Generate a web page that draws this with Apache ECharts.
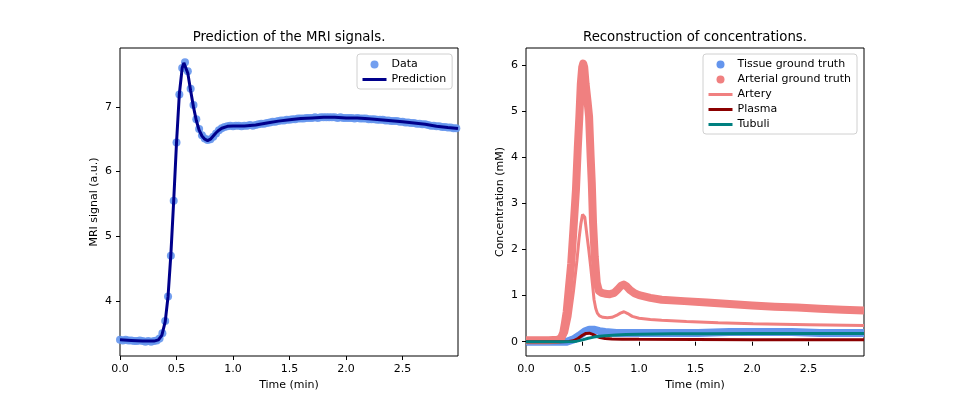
<!DOCTYPE html>
<html><head><meta charset="utf-8">
<script src="https://cdn.jsdelivr.net/npm/echarts@6/dist/echarts.min.js"></script>
<style>html,body{margin:0;padding:0;background:#fff}#c{width:960px;height:400px}</style>
</head><body><div id="c"></div>
<script>
// ---------- Left panel: MRI signal ----------
const dataTime = [0.000,0.025,0.050,0.075,0.100,0.125,0.150,0.175,0.200,0.225,0.250,0.275,0.300,0.325,0.350,0.375,0.400,0.425,0.450,0.475,0.500,0.525,0.550,0.575,0.600,0.625,0.650,0.675,0.700,0.725,0.750,0.775,0.800,0.825,0.850,0.875,0.900,0.925,0.950,0.975,1.000,1.025,1.050,1.075,1.100,1.125,1.150,1.175,1.200,1.225,1.250,1.275,1.300,1.325,1.350,1.375,1.400,1.425,1.450,1.475,1.500,1.525,1.550,1.575,1.600,1.625,1.650,1.675,1.700,1.725,1.750,1.775,1.800,1.825,1.850,1.875,1.900,1.925,1.950,1.975,2.000,2.025,2.050,2.075,2.100,2.125,2.150,2.175,2.200,2.225,2.250,2.275,2.300,2.325,2.350,2.375,2.400,2.425,2.450,2.475,2.500,2.525,2.550,2.575,2.600,2.625,2.650,2.675,2.700,2.725,2.750,2.775,2.800,2.825,2.850,2.875,2.900,2.925,2.950,2.975];
const dataSignal = [3.40,3.39,3.40,3.39,3.39,3.38,3.38,3.39,3.38,3.37,3.38,3.37,3.38,3.39,3.42,3.50,3.69,4.07,4.70,5.55,6.45,7.19,7.60,7.69,7.55,7.28,7.03,6.81,6.66,6.56,6.51,6.49,6.50,6.54,6.59,6.64,6.67,6.69,6.70,6.71,6.70,6.71,6.71,6.70,6.71,6.71,6.72,6.71,6.72,6.73,6.74,6.74,6.75,6.76,6.77,6.77,6.78,6.79,6.79,6.80,6.80,6.81,6.81,6.82,6.82,6.82,6.83,6.83,6.83,6.84,6.83,6.84,6.84,6.84,6.84,6.84,6.84,6.83,6.84,6.83,6.83,6.83,6.83,6.82,6.83,6.82,6.82,6.82,6.81,6.81,6.81,6.80,6.80,6.80,6.79,6.79,6.78,6.78,6.78,6.77,6.77,6.76,6.76,6.75,6.75,6.74,6.74,6.73,6.73,6.72,6.71,6.71,6.70,6.70,6.69,6.69,6.68,6.68,6.67,6.67];
const predTime = [0,0.1,0.2,0.3,0.34,0.37,0.40,0.425,0.45,0.475,0.50,0.525,0.55,0.565,0.575,0.60,0.625,0.65,0.675,0.70,0.725,0.75,0.775,0.80,0.825,0.85,0.875,0.90,0.95,1.0,1.1,1.2,1.3,1.4,1.5,1.6,1.7,1.8,1.9,2.0,2.1,2.2,2.3,2.4,2.5,2.6,2.7,2.8,2.9,2.99];
const predSignal = [3.40,3.39,3.38,3.38,3.40,3.47,3.68,4.07,4.72,5.55,6.45,7.20,7.60,7.68,7.68,7.52,7.25,7.00,6.79,6.64,6.55,6.50,6.48,6.50,6.55,6.60,6.64,6.67,6.70,6.705,6.705,6.72,6.75,6.78,6.80,6.82,6.83,6.84,6.84,6.83,6.83,6.815,6.80,6.785,6.77,6.75,6.73,6.70,6.68,6.665];

// ---------- Right panel: concentrations ----------
const tissueTime = [0,0.2,0.3,0.36,0.42,0.47,0.52,0.56,0.60,0.65,0.70,0.75,0.8,1.0,1.2,1.52,1.53,1.8,2.1,2.35,2.36,2.6,2.8,2.99];
const tissueConc = [0,0,0,0.0,0.05,0.13,0.22,0.26,0.26,0.23,0.21,0.20,0.19,0.19,0.19,0.19,0.21,0.21,0.21,0.21,0.19,0.19,0.19,0.19];
const arterialTime = [0,0.1,0.2,0.28,0.31,0.33,0.345,0.36,0.378,0.40,0.42,0.442,0.458,0.472,0.485,0.497,0.506,0.515,0.527,0.545,0.558,0.572,0.582,0.593,0.608,0.626,0.645,0.67,0.70,0.74,0.78,0.81,0.84,0.865,0.89,0.92,0.96,1.0,1.1,1.2,1.4,1.6,1.8,2.0,2.2,2.4,2.6,2.8,2.99];
const arterialConc = [0.03,0.03,0.03,0.04,0.08,0.2,0.41,0.65,1.13,1.7,2.45,3.3,4.2,4.88,5.6,5.95,6.03,5.95,5.6,5.2,4.88,4.0,3.44,2.58,1.85,1.28,1.1,1.06,1.04,1.03,1.06,1.13,1.21,1.24,1.2,1.12,1.05,1.01,0.95,0.91,0.88,0.85,0.82,0.785,0.76,0.74,0.715,0.695,0.675];
const arteryTime = [0,0.1,0.2,0.3,0.33,0.36,0.39,0.42,0.45,0.47,0.485,0.50,0.508,0.52,0.537,0.555,0.572,0.588,0.602,0.617,0.631,0.65,0.68,0.72,0.76,0.80,0.835,0.867,0.90,0.94,1.0,1.1,1.2,1.42,1.7,2.01,2.5,2.99];
const arteryConc = [0.0,0.0,0.0,0.01,0.05,0.2,0.55,1.1,1.75,2.25,2.55,2.76,2.79,2.7,2.35,2.0,1.63,1.25,0.91,0.72,0.62,0.56,0.53,0.52,0.53,0.57,0.62,0.65,0.61,0.55,0.51,0.48,0.465,0.44,0.41,0.39,0.37,0.35];
const plasmaTime = [0,0.3,0.38,0.42,0.46,0.50,0.53,0.546,0.56,0.59,0.62,0.655,0.70,0.76,0.85,1.0,1.5,2.0,2.5,2.99];
const plasmaConc = [0,0,0.005,0.02,0.07,0.14,0.18,0.19,0.185,0.16,0.12,0.09,0.07,0.06,0.055,0.052,0.048,0.045,0.043,0.04];
const tubuliTime = [0,0.3,0.42,0.45,0.5,0.55,0.6,0.65,0.7,0.8,0.885,1.0,1.3,1.6,2.0,2.5,2.99];
const tubuliConc = [0,0,0.003,0.012,0.04,0.075,0.10,0.118,0.13,0.145,0.155,0.163,0.17,0.175,0.178,0.178,0.178];

const xTicks = [0, 0.5, 1.0, 1.5, 2.0, 2.5];
const yTicksSignal = [4, 5, 6, 7];
const yTicksConc = [0, 1, 2, 3, 4, 5, 6];

const FONT = 'DejaVu Sans';
const zip = (a, b) => a.map((t, i) => [t, b[i]]);

function xAxisCfg(gi) {
  return {
    type: 'value', gridIndex: gi, min: 0, max: 2.99,
    name: 'Time (min)', nameLocation: 'middle', nameGap: 21,
    nameTextStyle: {fontFamily: FONT, fontSize: 11, color: '#000'},
    axisLine: {show: false}, splitLine: {show: false},
    axisTick: {show: true, length: 4, customValues: xTicks, lineStyle: {color: '#000'}},
    axisLabel: {customValues: xTicks, formatter: v => v.toFixed(1), fontFamily: FONT, fontSize: 11, color: '#000', margin: 8}
  };
}
function yAxisCfg(gi, min, max, ticks, name) {
  return {
    type: 'value', gridIndex: gi, min, max,
    name, nameLocation: 'middle', nameGap: 20,
    nameTextStyle: {fontFamily: FONT, fontSize: 11, color: '#000'},
    axisLine: {show: false}, splitLine: {show: false},
    axisTick: {show: true, length: 4, customValues: ticks, lineStyle: {color: '#000'}},
    axisLabel: {customValues: ticks, formatter: v => String(v), fontFamily: FONT, fontSize: 11, color: '#000', margin: 8}
  };
}
const legendBase = {
  orient: 'vertical', backgroundColor: '#fff', borderColor: '#d0d0d0', borderWidth: 1, borderRadius: 3,
  itemWidth: 24, itemHeight: 8, itemGap: 4, padding: [5, 6, 4, 4],
  textStyle: {fontFamily: FONT, fontSize: 11, color: '#000'}
};
const lineItem = name => ({name, itemStyle: {opacity: 0}, lineStyle: {width: 3}});

const option = {
  animation: false,
  backgroundColor: '#fff',
  title: [
    {text: 'Prediction of the MRI signals.', left: 289, top: 31, textAlign: 'center', padding: 0,
     textStyle: {fontFamily: FONT, fontSize: 13.3, fontWeight: 'normal', color: '#000'}},
    {text: 'Reconstruction of concentrations.', left: 695, top: 31, textAlign: 'center', padding: 0,
     textStyle: {fontFamily: FONT, fontSize: 13.3, fontWeight: 'normal', color: '#000'}}
  ],
  grid: [
    {left: 120, top: 48, width: 338, height: 308, show: true, borderColor: '#000', borderWidth: 1, backgroundColor: 'transparent'},
    {left: 526, top: 48, width: 338, height: 308, show: true, borderColor: '#000', borderWidth: 1, backgroundColor: 'transparent'}
  ],
  xAxis: [xAxisCfg(0), xAxisCfg(1)],
  yAxis: [yAxisCfg(0, 3.15, 7.91, yTicksSignal, 'MRI signal (a.u.)'), yAxisCfg(1, -0.31, 6.37, yTicksConc, 'Concentration (mM)')],
  legend: [
    Object.assign({}, legendBase, {left: 357, top: 54,
      data: [{name: 'Data', icon: 'circle'}, lineItem('Prediction')]}),
    Object.assign({}, legendBase, {left: 703, top: 54,
      data: [{name: 'Tissue ground truth', icon: 'circle'}, {name: 'Arterial ground truth', icon: 'circle'},
             lineItem('Artery'), lineItem('Plasma'), lineItem('Tubuli')]})
  ],
  series: [
    {name: 'Data', type: 'scatter', xAxisIndex: 0, yAxisIndex: 0, data: zip(dataTime, dataSignal),
     symbolSize: 8, itemStyle: {color: '#6495ED', opacity: 0.9}, z: 2},
    {name: 'Prediction', type: 'line', xAxisIndex: 0, yAxisIndex: 0, data: zip(predTime, predSignal),
     showSymbol: false, symbol: 'none', lineStyle: {color: '#00008B', width: 3}, itemStyle: {color: '#00008B'}, z: 3},
    {name: 'Tissue ground truth', type: 'line', xAxisIndex: 1, yAxisIndex: 1, data: zip(tissueTime, tissueConc),
     showSymbol: false, symbol: 'none', lineStyle: {color: '#6495ED', width: 8, join: 'round', cap: 'butt'}, itemStyle: {color: '#6495ED'}, z: 2},
    {name: 'Arterial ground truth', type: 'line', xAxisIndex: 1, yAxisIndex: 1, data: zip(arterialTime, arterialConc),
     showSymbol: false, symbol: 'none', lineStyle: {color: '#F08080', width: 8, join: 'round', cap: 'butt'}, itemStyle: {color: '#F08080'}, z: 3},
    {name: 'Artery', type: 'line', xAxisIndex: 1, yAxisIndex: 1, data: zip(arteryTime, arteryConc),
     showSymbol: false, symbol: 'none', lineStyle: {color: '#F08080', width: 3}, itemStyle: {color: '#F08080'}, z: 4},
    {name: 'Plasma', type: 'line', xAxisIndex: 1, yAxisIndex: 1, data: zip(plasmaTime, plasmaConc),
     showSymbol: false, symbol: 'none', lineStyle: {color: '#8B0000', width: 3}, itemStyle: {color: '#8B0000'}, z: 5},
    {name: 'Tubuli', type: 'line', xAxisIndex: 1, yAxisIndex: 1, data: zip(tubuliTime, tubuliConc),
     showSymbol: false, symbol: 'none', lineStyle: {color: '#008080', width: 3}, itemStyle: {color: '#008080'}, z: 6}
  ]
};
const chart = echarts.init(document.getElementById('c'), null, {renderer: 'canvas'});
chart.setOption(option);
</script></body></html>
